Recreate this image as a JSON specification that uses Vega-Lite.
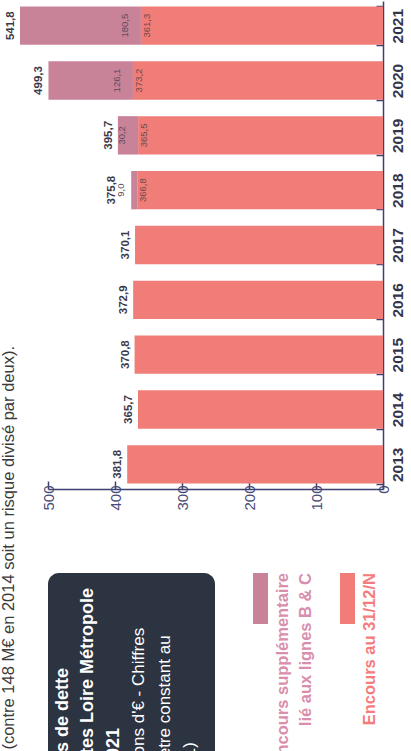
{
  "$schema": "https://vega.github.io/schema/vega-lite/v6.json",
  "padding": 0,
  "background": "white",
  "config": {
    "font": "Liberation Sans",
    "view": {"stroke": null},
    "locale": {"number": {"decimal": ",", "thousands": " ", "grouping": [3], "currency": ["", " €"]}}
  },
  "datasets": {
    "encours": [
      {"annee": 2013, "serie": "Encours au 31/12/N", "valeur": 381.8},
      {"annee": 2014, "serie": "Encours au 31/12/N", "valeur": 365.7},
      {"annee": 2015, "serie": "Encours au 31/12/N", "valeur": 370.8},
      {"annee": 2016, "serie": "Encours au 31/12/N", "valeur": 372.9},
      {"annee": 2017, "serie": "Encours au 31/12/N", "valeur": 370.1},
      {"annee": 2018, "serie": "Encours au 31/12/N", "valeur": 366.8},
      {"annee": 2019, "serie": "Encours au 31/12/N", "valeur": 365.5},
      {"annee": 2020, "serie": "Encours au 31/12/N", "valeur": 373.2},
      {"annee": 2021, "serie": "Encours au 31/12/N", "valeur": 361.3},
      {"annee": 2018, "serie": "Encours supplémentaire lié aux lignes B & C", "valeur": 9.0},
      {"annee": 2019, "serie": "Encours supplémentaire lié aux lignes B & C", "valeur": 30.2},
      {"annee": 2020, "serie": "Encours supplémentaire lié aux lignes B & C", "valeur": 126.1},
      {"annee": 2021, "serie": "Encours supplémentaire lié aux lignes B & C", "valeur": 180.5}
    ],
    "note": [{"texte": "(contre 148 M€ en 2014 soit un risque divisé par deux)."}],
    "cartouche": [
      {"ligne": 1, "niveau": "titre", "texte": "Encours de dette"},
      {"ligne": 2, "niveau": "titre", "texte": "de Nantes Loire Métropole"},
      {"ligne": 3, "niveau": "titre", "texte": "2013-2021"},
      {"ligne": 4, "niveau": "sous-titre", "texte": "(en millions d'€ - Chiffres"},
      {"ligne": 5, "niveau": "sous-titre", "texte": "à périmètre constant au"},
      {"ligne": 6, "niveau": "sous-titre", "texte": "31/12/21)"}
    ],
    "legende": [
      {"serie": "Encours supplémentaire lié aux lignes B & C", "libelle": "Encours supplémentaire\nlié aux lignes B & C"},
      {"serie": "Encours au 31/12/N", "libelle": "Encours au 31/12/N"}
    ]
  },
  "bounds": "flush",
  "spacing": 30,
  "hconcat": [
    {
      "width": 18,
      "height": 690,
      "data": {"name": "note"},
      "mark": {"type": "text", "angle": 270, "align": "right", "baseline": "middle", "fontSize": 16.5, "color": "#3b3b3b"},
      "encoding": {"text": {"field": "texte"}}
    },
    {
      "bounds": "flush",
      "spacing": 84,
      "vconcat": [
        {
          "width": 335,
          "height": 488,
          "data": {"name": "encours"},
          "encoding": {
            "y": {
              "field": "annee",
              "type": "ordinal",
              "sort": "descending",
              "scale": {"paddingInner": 0.3, "paddingOuter": 0.1},
              "axis": {
                "orient": "right",
                "title": null,
                "tickBand": "extent",
                "tickSize": -7,
                "tickWidth": 1.5,
                "tickColor": "#3d4070",
                "domainColor": "#3d4070",
                "domainWidth": 1.5,
                "labelAngle": 270,
                "labelAlign": "center",
                "labelBaseline": "top",
                "labelPadding": 14,
                "labelFontSize": 15.5,
                "labelFontWeight": "bold",
                "labelColor": "#34344a"
              }
            }
          },
          "layer": [
            {
              "mark": {"type": "bar"},
              "encoding": {
                "x": {
                  "field": "valeur",
                  "type": "quantitative",
                  "stack": "zero",
                  "scale": {"domain": [0, 500], "reverse": true, "nice": false},
                  "axis": {
                    "orient": "bottom",
                    "title": null,
                    "grid": false,
                    "values": [0, 100, 200, 300, 400, 500],
                    "labelAngle": 270,
                    "labelAlign": "right",
                    "labelBaseline": "middle",
                    "labelPadding": 4,
                    "labelFontSize": 15,
                    "labelColor": "#4a4c78",
                    "labelFlush": false,
                    "labelOverlap": false,
                    "tickSize": -8,
                    "tickWidth": 1.5,
                    "tickColor": "#3d4070",
                    "domainColor": "#3d4070",
                    "domainWidth": 1.5
                  }
                },
                "color": {
                  "field": "serie",
                  "type": "nominal",
                  "scale": {"domain": ["Encours supplémentaire lié aux lignes B & C", "Encours au 31/12/N"], "range": ["#c98399", "#f07d77"]},
                  "legend": null
                }
              }
            },
            {
              "transform": [
                {"aggregate": [{"op": "sum", "field": "valeur", "as": "total"}], "groupby": ["annee"]},
                {"filter": "datum.annee != 2018"}
              ],
              "mark": {"type": "text", "angle": 270, "align": "center", "baseline": "middle", "dy": -9, "fontSize": 11.5, "fontWeight": "bold", "color": "#3a3a4a"},
              "encoding": {
                "x": {"field": "total", "type": "quantitative"},
                "text": {"field": "total", "type": "quantitative", "format": ".1f"}
              }
            },
            {
              "transform": [
                {"aggregate": [{"op": "sum", "field": "valeur", "as": "total"}], "groupby": ["annee"]},
                {"filter": "datum.annee == 2018"}
              ],
              "mark": {"type": "text", "angle": 270, "align": "center", "baseline": "middle", "dy": -19, "fontSize": 11.5, "fontWeight": "bold", "color": "#3a3a4a"},
              "encoding": {
                "x": {"field": "total", "type": "quantitative"},
                "text": {"field": "total", "type": "quantitative", "format": ".1f"}
              }
            },
            {
              "transform": [
                {"stack": "valeur", "groupby": ["annee"], "sort": [{"field": "serie", "order": "ascending"}], "as": ["v0", "v1"]},
                {"filter": "datum.annee >= 2018 && datum.serie == 'Encours au 31/12/N'"}
              ],
              "mark": {"type": "text", "angle": 270, "align": "center", "baseline": "middle", "dy": 6, "fontSize": 9.5, "color": "#6b4b50"},
              "encoding": {
                "x": {"field": "v1", "type": "quantitative"},
                "text": {"field": "valeur", "type": "quantitative", "format": ".1f"}
              }
            },
            {
              "transform": [
                {"stack": "valeur", "groupby": ["annee"], "sort": [{"field": "serie", "order": "ascending"}], "as": ["v0", "v1"]},
                {"filter": "datum.serie != 'Encours au 31/12/N'"}
              ],
              "mark": {"type": "text", "angle": 270, "align": "center", "baseline": "middle", "dy": -16, "fontSize": 9.5, "color": "#5c4a5a"},
              "encoding": {
                "x": {"field": "v0", "type": "quantitative"},
                "text": {"field": "valeur", "type": "quantitative", "format": ".1f"}
              }
            }
          ]
        },
        {
          "bounds": "flush",
          "spacing": 45.5,
          "hconcat": [
            {
              "width": 167,
              "height": 190,
              "view": {"fill": "#2c3341", "stroke": null, "cornerRadius": 11},
              "data": {"name": "cartouche"},
              "encoding": {
                "x": {"field": "ligne", "type": "ordinal", "scale": {"type": "point", "padding": 0.787, "align": 0.375}, "axis": null},
                "text": {"field": "texte"}
              },
              "layer": [
                {
                  "transform": [{"filter": "datum.niveau == 'titre'"}],
                  "mark": {"type": "text", "angle": 270, "align": "left", "baseline": "middle", "dx": -146, "fontSize": 18, "fontWeight": "bold", "color": "white", "clip": true}
                },
                {
                  "transform": [{"filter": "datum.niveau == 'sous-titre'"}],
                  "mark": {"type": "text", "angle": 270, "align": "left", "baseline": "middle", "dx": -146, "fontSize": 17, "color": "white", "clip": true}
                }
              ]
            },
            {
              "width": 87,
              "height": 51,
              "data": {"name": "legende"},
              "encoding": {
                "x": {"field": "serie", "type": "nominal", "scale": {"type": "point", "padding": 0, "domain": ["Encours supplémentaire lié aux lignes B & C", "Encours au 31/12/N"]}, "axis": null}
              },
              "layer": [
                {
                  "mark": {"type": "point", "shape": "M-0.294,-1H0.294V1H-0.294Z", "size": 2601, "filled": true, "opacity": 1, "strokeWidth": 0},
                  "encoding": {
                    "color": {
                      "field": "serie",
                      "type": "nominal",
                      "scale": {"domain": ["Encours supplémentaire lié aux lignes B & C", "Encours au 31/12/N"], "range": ["#c98399", "#f07d77"]},
                      "legend": null
                    }
                  }
                },
                {
                  "mark": {"type": "text", "angle": 270, "align": "right", "baseline": "top", "dx": 25.5, "dy": 14, "fontSize": 16.5, "fontWeight": "bold", "lineBreak": "\n", "lineHeight": 23},
                  "encoding": {
                    "text": {"field": "libelle"},
                    "color": {"condition": {"test": "datum.serie == 'Encours au 31/12/N'", "value": "#f47c7c"}, "value": "#d88eac"}
                  }
                }
              ]
            }
          ]
        }
      ]
    }
  ]
}
